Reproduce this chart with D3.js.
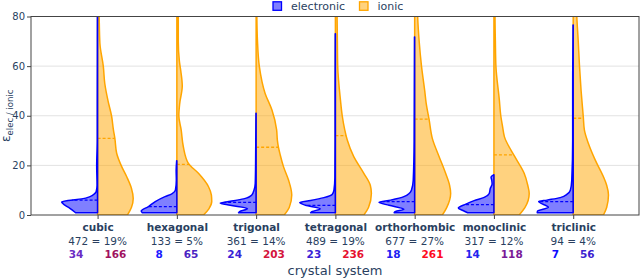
<!DOCTYPE html>
<html><head><meta charset="utf-8">
<script src="https://cdn.jsdelivr.net/npm/d3@7/dist/d3.min.js"></script>
<style>body{margin:0;background:#fff} svg{display:block;font-family:"DejaVu Sans",Verdana,sans-serif}</style>
</head><body><svg id="chart" width="640" height="280"></svg>
<script>
// ---------- data ----------
const categories = ["cubic", "hexagonal", "trigonal", "tetragonal", "orthorhombic", "monoclinic", "triclinic"];
const totals = [472, 133, 361, 489, 677, 317, 94];
const shares = [19, 5, 14, 19, 27, 12, 4];
const elecCounts = [34, 8, 24, 23, 18, 14, 7];
const ionicCounts = [166, 65, 203, 236, 261, 118, 56];
const elecCountColors = ["#6a2cc4", "#1a1aff", "#3b1fd6", "#3b1fd6", "#2020f2", "#2323ee", "#0d0dff"];
const ionicCountColors = ["#a0125f", "#4a22c2", "#d4143c", "#e6102e", "#ff0a1e", "#7a1a98", "#3c22d0"];
const elecMeans = [6.0, 3.4, 5.1, 3.9, 5.4, 4.2, 5.4];
const ionicMeans = [30.9, 20.4, 27.3, 32.0, 38.6, 24.2, 39.0];
const yTicks = [0, 20, 40, 60, 80];

// violin profiles: levels (epsilon) and relative density (% of max width)
const elecLevels = [
  [0.9, 2.7, 4.0, 5.2, 5.8, 6.5, 7.4, 8.5, 9.4, 12, 20, 30, 45, 60, 80, 85],
  [0.9, 1.6, 3.4, 5.4, 7.4, 8.5, 10, 14, 18, 21.9],
  [0.9, 1.4, 2.5, 3.9, 4.8, 5.5, 6.5, 8.1, 10, 12.7, 20, 30, 41],
  [0.9, 1.4, 2.5, 3.9, 5.0, 5.8, 7.0, 8.3, 10, 15, 30, 50, 73],
  [0.9, 1.4, 2.3, 3.9, 5.1, 6.0, 7.4, 10, 14, 30, 50, 71.7],
  [0.9, 1.8, 2.8, 4.4, 5.8, 7.1, 8.7, 10.8, 12.5, 14, 15.3, 16.2],
  [0.9, 1.6, 3.1, 5.4, 6.0, 7.0, 8.5, 10, 14, 30, 50, 76.6]
];
const elecDensity = [
  [61, 77, 91, 100, 82, 44, 21, 9, 4, 1.5, 2.5, 1, 1, 0.8, 0.6, 0.5],
  [96, 99, 79, 60, 33, 14, 4, 1.5, 2, 0.5],
  [49, 46, 24, 72, 100, 72, 35, 12, 6, 2.5, 1.5, 1, 0.5],
  [69, 64, 42, 83, 99, 69, 32, 9, 4, 1.5, 1, 1, 0.5],
  [57, 53, 30, 71, 99, 67, 30, 9, 4, 1.5, 1, 0.5],
  [73, 86, 99, 78, 55, 27, 13, 10, 5, 6, 8, 1],
  [100, 99, 69, 96, 73, 36, 16, 8, 4, 1.5, 1.5, 0.5]
];
const ionicLevels = [
  [0, 3, 6.7, 10.8, 15.4, 19.5, 24.9, 30.9, 34.3, 39.8, 46, 53, 59.8, 69.2, 80, 90],
  [0, 2.5, 5.4, 8, 11.4, 16.8, 20.8, 27.5, 34.3, 40, 45, 52, 58, 62, 70, 80, 90],
  [0, 3, 8.1, 14.1, 19.5, 24.2, 27.3, 30.2, 34.3, 42.3, 49, 59.8, 70.6, 80, 90],
  [0, 3, 8.7, 12, 16.8, 23.5, 30.2, 34.3, 40, 46.4, 60, 70, 80, 90],
  [0, 3, 8.7, 12, 16.8, 23.5, 30.9, 38.6, 45, 50, 60, 70, 80, 90],
  [0, 3, 8.7, 12, 16.8, 23.5, 31.6, 35.6, 40, 46.4, 60, 70, 80, 90],
  [0, 3, 8.1, 12, 15.4, 22.2, 28.9, 34.3, 39.6, 50, 60, 70, 80, 90]
];
const ionicDensity = [
  [83, 94, 99, 94, 81, 67, 53, 48, 44, 39, 29, 20, 16, 6.4, 4.4, 3.3],
  [74, 89, 97, 96, 88, 60, 32, 18, 12, 5.5, 8, 15, 11, 7, 4, 4, 3],
  [78, 92, 99, 90, 76, 67, 62, 59, 57, 44, 25, 9, 3.6, 2, 1.5],
  [79, 92, 100, 97, 79, 51, 33, 26, 19, 14, 6.4, 5.5, 4.7, 4],
  [77, 89, 100, 97, 86, 68, 49, 40, 32, 28, 19, 12.5, 8.3, 7],
  [70, 86, 98, 94, 84, 58, 29, 24, 19, 15, 5.5, 4, 3, 3],
  [84, 93, 98, 93, 84, 61, 42, 31, 28, 22, 17.5, 14, 10, 8]
];
const seriesNames = ["electronic", "ionic"];

// ---------- drawing ----------
const svg = d3.select("#chart");
const L = 31, R = 639, T = 16.5, B = 215;
const x = d3.scaleLinear().domain([-0.84, 6.83]).range([L, R]);
const y = d3.scaleLinear().domain([0, 80]).range([B, T]);
const dens = d3.scaleLinear().domain([0, 100]).range([0, 0.454]);
const textCol = "#2a3f5f";
const blue = "#0000ff", orange = "#ffa500";

// grid
svg.append("g").selectAll("line").data(yTicks.filter(t => t > 0 && t < 80)).join("line")
  .attr("x1", L).attr("x2", R).attr("y1", d => y(d)).attr("y2", d => y(d))
  .attr("stroke", "#e2e2e2").attr("stroke-width", 1);

svg.append("clipPath").attr("id", "pc").append("rect")
  .attr("x", L).attr("y", T).attr("width", R - L).attr("height", B - T);
const g = svg.append("g").attr("clip-path", "url(#pc)");

categories.forEach((c, i) => {
  // ionic (right side)
  const ion = ionicLevels[i].map((v, k) => ({ v, d: ionicDensity[i][k] }));
  const areaR = d3.area().curve(d3.curveMonotoneY)
    .y(p => y(p.v)).x0(x(i)).x1(p => x(i + dens(p.d)));
  g.append("path").datum(ion).attr("d", areaR)
    .attr("fill", "rgba(255,165,0,0.5)").attr("stroke", orange).attr("stroke-width", 1.5);
  const ionW = d3.scaleLinear().domain(ionicLevels[i]).range(ionicDensity[i]);
  g.append("line").attr("x1", x(i)).attr("x2", x(i + dens(ionW(ionicMeans[i]))))
    .attr("y1", y(ionicMeans[i])).attr("y2", y(ionicMeans[i]))
    .attr("stroke", orange).attr("stroke-width", 1.3).attr("stroke-dasharray", "3,2");

  // electronic (left side)
  const el = elecLevels[i].map((v, k) => ({ v, d: elecDensity[i][k] }));
  const areaL = d3.area().curve(d3.curveMonotoneY)
    .y(p => y(p.v)).x0(x(i)).x1(p => x(i - dens(p.d)));
  g.append("path").datum(el).attr("d", areaL)
    .attr("fill", "rgba(0,0,255,0.5)").attr("stroke", blue).attr("stroke-width", 1.5)
    .attr("stroke-linejoin", "round");
  const elW = d3.scaleLinear().domain(elecLevels[i]).range(elecDensity[i]);
  g.append("line").attr("x1", x(i)).attr("x2", x(i - dens(elW(elecMeans[i]))))
    .attr("y1", y(elecMeans[i])).attr("y2", y(elecMeans[i]))
    .attr("stroke", blue).attr("stroke-width", 1.3).attr("stroke-dasharray", "3,2");
});

// frame
svg.append("rect").attr("x", L).attr("y", T).attr("width", R - L).attr("height", B - T)
  .attr("fill", "none").attr("stroke", "#444").attr("stroke-width", 1);

// y axis
const ya = svg.append("g").attr("transform", `translate(${L},0)`)
  .call(d3.axisLeft(y).tickValues(yTicks).tickSize(4).tickPadding(2));
ya.select(".domain").remove();
ya.selectAll("line").attr("stroke", "#444");
ya.selectAll("text").attr("fill", textCol).attr("font-size", 10).attr("font-family", "DejaVu Sans");

// x axis
const xa = svg.append("g").attr("transform", `translate(0,${B})`)
  .call(d3.axisBottom(x).tickValues(d3.range(categories.length)).tickSize(4).tickPadding(5)
    .tickFormat(i => categories[i]));
xa.select(".domain").remove();
xa.selectAll("line").attr("stroke", "#444");
xa.selectAll("text").attr("fill", textCol).attr("font-size", 10.5).attr("font-weight", "bold")
  .attr("font-family", "DejaVu Sans");

// second and third label lines
categories.forEach((c, i) => {
  svg.append("text").attr("x", x(i)).attr("y", 244.8).attr("text-anchor", "middle")
    .attr("font-size", 10.5).attr("fill", textCol)
    .text(`${totals[i]} = ${shares[i]}%`);
  const t = svg.append("text").attr("x", x(i)).attr("y", 258.2).attr("text-anchor", "middle")
    .attr("font-size", 10.5).attr("font-weight", "bold");
  t.append("tspan").attr("fill", elecCountColors[i]).text(elecCounts[i]);
  t.append("tspan").attr("dx", 21).attr("fill", ionicCountColors[i]).text(ionicCounts[i]);
});

// x title
svg.append("text").attr("x", (L + R) / 2).attr("y", 275.3).attr("text-anchor", "middle")
  .attr("font-size", 13).attr("fill", textCol).text("crystal system");

// y title
const yt = svg.append("text").attr("transform", `translate(10,${(T + B) / 2}) rotate(-90)`)
  .attr("text-anchor", "middle").attr("fill", textCol);
yt.append("tspan").attr("font-size", 12).text("ε");
yt.append("tspan").attr("font-size", 8.5).attr("dy", 2.5).text("elec / ionic");

// legend
const legend = [
  { name: seriesNames[0], fill: "rgba(0,0,255,0.5)", stroke: blue, x: 273 },
  { name: seriesNames[1], fill: "rgba(255,165,0,0.5)", stroke: orange, x: 359.5 }
];
legend.forEach(l => {
  svg.append("rect").attr("x", l.x).attr("y", 1.8).attr("width", 8.5).attr("height", 8.5)
    .attr("fill", l.fill).attr("stroke", l.stroke).attr("stroke-width", 1.3);
  svg.append("text").attr("x", l.x + 18).attr("y", 9.8).attr("font-size", 11)
    .attr("fill", textCol).text(l.name);
});
</script></body></html>
